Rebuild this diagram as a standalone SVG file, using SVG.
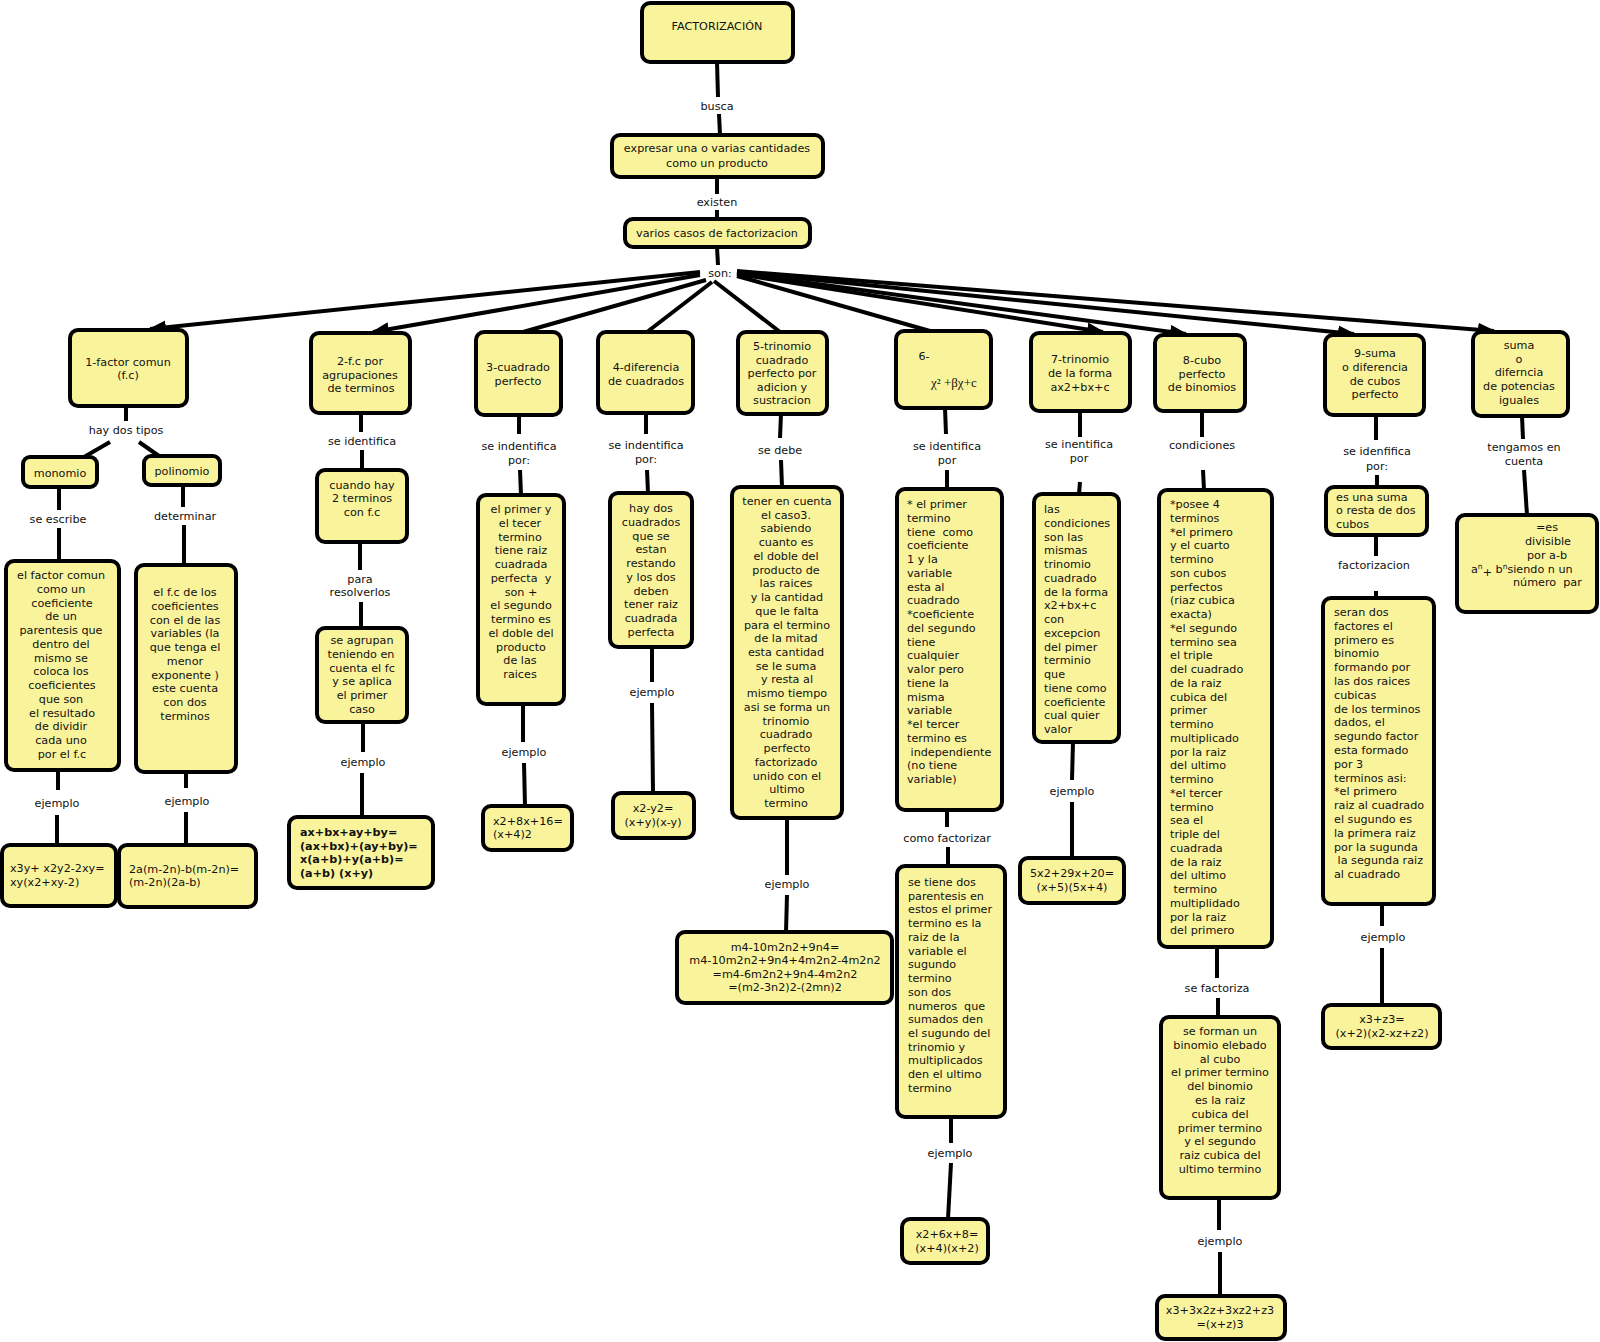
<svg xmlns="http://www.w3.org/2000/svg" width="1600" height="1342" viewBox="0 0 1600 1342">
<style>
.n rect{fill:#f9f49c;stroke:#000;stroke-width:4}
text{font-family:"DejaVu Sans",Verdana,sans-serif;font-size:11.2px;fill:#111}
.m{text-anchor:middle}
.b{font-weight:bold}
.conn line{stroke:#000;stroke-width:4;stroke-linecap:butt}
.lbl text{text-anchor:middle}
</style>
<defs>
<marker id="ar" viewBox="0 0 18 14" refX="16" refY="7" markerUnits="userSpaceOnUse" markerWidth="18" markerHeight="14" orient="auto">
<path d="M0,0 L18,7 L0,14 z" fill="#000"/>
</marker>
</defs>
<rect width="1600" height="1342" fill="#fff"/>

<g class="conn">
<line x1="717" y1="62" x2="718" y2="97"/>
<line x1="719" y1="114" x2="720" y2="135"/>
<line x1="717" y1="177" x2="717" y2="194"/>
<line x1="717" y1="210" x2="717" y2="219"/>
<line x1="717" y1="247" x2="718" y2="265"/>
<line x1="700" y1="272" x2="150" y2="329" marker-end="url(#ar)"/>
<line x1="700" y1="275" x2="373" y2="332" marker-end="url(#ar)"/>
<line x1="706" y1="280" x2="523" y2="332"/>
<line x1="712" y1="282" x2="647" y2="332"/>
<line x1="714" y1="281" x2="780" y2="332"/>
<line x1="737" y1="276" x2="930" y2="331"/>
<line x1="737" y1="274" x2="1103" y2="332" marker-end="url(#ar)"/>
<line x1="737" y1="273" x2="1186" y2="334" marker-end="url(#ar)"/>
<line x1="737" y1="272" x2="1354" y2="334" marker-end="url(#ar)"/>
<line x1="737" y1="271" x2="1494" y2="331" marker-end="url(#ar)"/>
<line x1="126" y1="406" x2="126" y2="421"/>
<line x1="110" y1="442" x2="84" y2="457"/>
<line x1="139" y1="442" x2="159" y2="456"/>
<line x1="59" y1="487" x2="59" y2="510"/>
<line x1="59" y1="528" x2="59" y2="561"/>
<line x1="58" y1="770" x2="58" y2="790"/>
<line x1="57" y1="815" x2="57" y2="845"/>
<line x1="183" y1="485" x2="183" y2="507"/>
<line x1="184" y1="525" x2="184" y2="565"/>
<line x1="186" y1="772" x2="186" y2="788"/>
<line x1="186" y1="812" x2="186" y2="845"/>
<line x1="361" y1="413" x2="361" y2="432"/>
<line x1="362" y1="450" x2="362" y2="470"/>
<line x1="360" y1="542" x2="360" y2="570"/>
<line x1="361" y1="602" x2="361" y2="628"/>
<line x1="363" y1="722" x2="363" y2="752"/>
<line x1="362" y1="773" x2="362" y2="817"/>
<line x1="519" y1="415" x2="519" y2="434"/>
<line x1="520" y1="470" x2="521" y2="495"/>
<line x1="523" y1="704" x2="523" y2="742"/>
<line x1="524" y1="763" x2="525" y2="806"/>
<line x1="646" y1="413" x2="646" y2="434"/>
<line x1="647" y1="470" x2="648" y2="493"/>
<line x1="652" y1="647" x2="652" y2="682"/>
<line x1="652" y1="703" x2="653" y2="793"/>
<line x1="781" y1="414" x2="780" y2="438"/>
<line x1="781" y1="460" x2="782" y2="487"/>
<line x1="787" y1="818" x2="787" y2="875"/>
<line x1="787" y1="895" x2="786" y2="932"/>
<line x1="945" y1="408" x2="946" y2="434"/>
<line x1="947" y1="470" x2="947" y2="489"/>
<line x1="947" y1="810" x2="947" y2="827"/>
<line x1="948" y1="847" x2="948" y2="866"/>
<line x1="951" y1="1117" x2="951" y2="1143"/>
<line x1="951" y1="1163" x2="948" y2="1219"/>
<line x1="1080" y1="411" x2="1080" y2="437"/>
<line x1="1080" y1="482" x2="1079" y2="494"/>
<line x1="1073" y1="742" x2="1072" y2="780"/>
<line x1="1072" y1="802" x2="1072" y2="858"/>
<line x1="1202" y1="411" x2="1202" y2="437"/>
<line x1="1203" y1="470" x2="1204" y2="490"/>
<line x1="1217" y1="947" x2="1217" y2="978"/>
<line x1="1218" y1="998" x2="1218" y2="1017"/>
<line x1="1219" y1="1198" x2="1219" y2="1230"/>
<line x1="1220" y1="1252" x2="1220" y2="1296"/>
<line x1="1376" y1="415" x2="1376" y2="440"/>
<line x1="1377" y1="475" x2="1377" y2="487"/>
<line x1="1376" y1="535" x2="1376" y2="556"/>
<line x1="1376" y1="591" x2="1376" y2="598"/>
<line x1="1382" y1="904" x2="1382" y2="926"/>
<line x1="1382" y1="948" x2="1382" y2="1005"/>
<line x1="1522" y1="416" x2="1523" y2="439"/>
<line x1="1524" y1="470" x2="1527" y2="515"/>
</g>

<g class="lbl">
<text x="717" y="110">busca</text>
<text x="717" y="206">existen</text>
<text x="720" y="277">son:</text>
<text x="126" y="434">hay dos tipos</text>
<text x="58" y="523">se escribe</text>
<text x="185" y="520">determinar</text>
<text x="57" y="807">ejemplo</text>
<text x="187" y="805">ejemplo</text>
<text x="362" y="445">se identifica</text>
<text x="360" y="583">para</text>
<text x="360" y="596">resolverlos</text>
<text x="363" y="766">ejemplo</text>
<text x="519" y="450">se indentifica</text>
<text x="519" y="464">por:</text>
<text x="524" y="756">ejemplo</text>
<text x="646" y="449">se indentifica</text>
<text x="646" y="463">por:</text>
<text x="652" y="696">ejemplo</text>
<text x="780" y="454">se debe</text>
<text x="787" y="888">ejemplo</text>
<text x="947" y="450">se identifica</text>
<text x="947" y="464">por</text>
<text x="947" y="842">como factorizar</text>
<text x="950" y="1157">ejemplo</text>
<text x="1079" y="448">se inentifica</text>
<text x="1079" y="462">por</text>
<text x="1072" y="795">ejemplo</text>
<text x="1202" y="449">condiciones</text>
<text x="1217" y="992">se factoriza</text>
<text x="1220" y="1245">ejemplo</text>
<text x="1377" y="455">se idenfifica</text>
<text x="1377" y="470">por:</text>
<text x="1374" y="569">factorizacion</text>
<text x="1383" y="941">ejemplo</text>
<text x="1524" y="451">tengamos en</text>
<text x="1524" y="465">cuenta</text>
</g>

<g id="n-factorizacion" class="n"><rect x="642" y="3" width="151" height="59" rx="8"/><text class="m" x="717" y="30">FACTORIZACIÓN</text></g>
<g id="n-expresar" class="n"><rect x="612" y="135" width="211" height="42" rx="8"/><text class="m" x="717" y="152">expresar una o varias cantidades</text><text class="m" x="717" y="167">como un producto</text></g>
<g id="n-varios" class="n"><rect x="625" y="219" width="185" height="28" rx="8"/><text class="m" x="717" y="237">varios casos de factorizacion</text></g>

<g id="c1" class="n"><rect x="70" y="330" width="117" height="76" rx="8"/><text class="m" x="128" y="366">1-factor comun</text><text class="m" x="128" y="379">(f.c)</text></g>
<g id="c2" class="n"><rect x="311" y="333" width="99" height="80" rx="8"/><text class="m" x="360" y="365">2-f.c por</text><text class="m" x="360" y="379">agrupaciones</text><text class="m" x="361" y="392">de terminos</text></g>
<g id="c3" class="n"><rect x="476" y="332" width="85" height="83" rx="8"/><text class="m" x="518" y="371">3-cuadrado</text><text class="m" x="518" y="385">perfecto</text></g>
<g id="c4" class="n"><rect x="598" y="332" width="95" height="81" rx="8"/><text class="m" x="646" y="371">4-diferencia</text><text class="m" x="646" y="385">de cuadrados</text></g>
<g id="c5" class="n"><rect x="738" y="332" width="89" height="82" rx="8"/><text class="m" x="782" y="350">5-trinomio</text><text class="m" x="782" y="364">cuadrado</text><text class="m" x="782" y="377">perfecto por</text><text class="m" x="782" y="391">adicion y</text><text class="m" x="782" y="404">sustracion</text></g>
<g id="c6" class="n"><rect x="896" y="331" width="95" height="77" rx="8"/><text class="m" x="924" y="360">6-</text><text x="931" y="387" style="font-family:'Liberation Serif',serif;font-size:13px">χ² +βχ+c</text></g>
<g id="c7" class="n"><rect x="1031" y="333" width="99" height="78" rx="8"/><text class="m" x="1080" y="363">7-trinomio</text><text class="m" x="1080" y="377">de la forma</text><text class="m" x="1080" y="391">ax2+bx+c</text></g>
<g id="c8" class="n"><rect x="1155" y="335" width="90" height="76" rx="8"/><text class="m" x="1202" y="364">8-cubo</text><text class="m" x="1202" y="378">perfecto</text><text class="m" x="1202" y="391">de binomios</text></g>
<g id="c9" class="n"><rect x="1325" y="335" width="99" height="80" rx="8"/><text class="m" x="1375" y="357">9-suma</text><text class="m" x="1375" y="371">o diferencia</text><text class="m" x="1375" y="385">de cubos</text><text class="m" x="1375" y="398">perfecto</text></g>
<g id="c10" class="n"><rect x="1473" y="332" width="95" height="84" rx="8"/><text class="m" x="1519" y="349">suma</text><text class="m" x="1519" y="363">o</text><text class="m" x="1519" y="376">diferncia</text><text class="m" x="1519" y="390">de potencias</text><text class="m" x="1519" y="404">iguales</text></g>

<g id="n-monomio" class="n"><rect x="23" y="457" width="74" height="30" rx="7"/><text class="m" x="60" y="477">monomio</text></g>
<g id="n-polinomio" class="n"><rect x="144" y="456" width="76" height="29" rx="7"/><text class="m" x="182" y="475">polinomio</text></g>
<g id="n-factor" class="n"><rect x="6" y="561" width="113" height="209" rx="8"/><text class="m" x="61" y="579">el factor comun<tspan x="61" dy="13.75">como un</tspan><tspan x="62" dy="13.75">coeficiente</tspan><tspan x="61" dy="13.75">de un</tspan><tspan x="61" dy="13.75">parentesis que</tspan><tspan x="61" dy="13.75">dentro del</tspan><tspan x="61" dy="13.75">mismo se</tspan><tspan x="61" dy="13.75">coloca los</tspan><tspan x="62" dy="13.75">coeficientes</tspan><tspan x="61" dy="13.75">que son</tspan><tspan x="62" dy="13.75">el resultado</tspan><tspan x="61" dy="13.75">de dividir</tspan><tspan x="61" dy="13.75">cada uno</tspan><tspan x="62" dy="13.75">por el f.c</tspan></text></g>
<g id="n-fc" class="n"><rect x="136" y="565" width="100" height="207" rx="8"/><text class="m" x="185" y="596">el f.c de los<tspan x="185" dy="13.75">coeficientes</tspan><tspan x="185" dy="13.75">con el de las</tspan><tspan x="185" dy="13.75">variables (la</tspan><tspan x="185" dy="13.75">que tenga el</tspan><tspan x="185" dy="13.75">menor</tspan><tspan x="185" dy="13.75">exponente )</tspan><tspan x="185" dy="13.75">este cuenta</tspan><tspan x="185" dy="13.75">con dos</tspan><tspan x="185" dy="13.75">terminos</tspan></text></g>
<g id="n-x3y" class="n"><rect x="2" y="845" width="114" height="61" rx="8"/><text x="10" y="872">x3y+ x2y2-2xy=</text><text x="10" y="886">xy(x2+xy-2)</text></g>
<g id="n-2a" class="n"><rect x="119" y="845" width="137" height="62" rx="8"/><text x="129" y="873">2a(m-2n)-b(m-2n)=</text><text x="129" y="886">(m-2n)(2a-b)</text></g>

<g id="n-cuando" class="n"><rect x="317" y="470" width="90" height="72" rx="8"/><text class="m" x="362" y="489">cuando hay</text><text class="m" x="362" y="502">2 terminos</text><text class="m" x="362" y="516">con f.c</text></g>
<g id="n-agrupan" class="n"><rect x="317" y="628" width="90" height="94" rx="8"/><text class="m" x="362" y="644">se agrupan<tspan x="361" dy="13.8">teniendo en</tspan><tspan x="362" dy="13.8">cuenta el fc</tspan><tspan x="362" dy="13.8">y se aplica</tspan><tspan x="362" dy="13.8">el primer</tspan><tspan x="362" dy="13.8">caso</tspan></text></g>
<g id="n-axbx" class="n"><rect x="289" y="817" width="144" height="71" rx="8"/><text class="b" x="300" y="836">ax+bx+ay+by=</text><text class="b" x="300" y="850">(ax+bx)+(ay+by)=</text><text class="b" x="300" y="863">x(a+b)+y(a+b)=</text><text class="b" x="300" y="877">(a+b) (x+y)</text></g>

<g id="n-primer" class="n"><rect x="478" y="495" width="86" height="209" rx="8"/><text class="m" x="521" y="513">el primer y<tspan x="520" dy="13.75">el tecer</tspan><tspan x="520" dy="13.75">termino</tspan><tspan x="521" dy="13.75">tiene raiz</tspan><tspan x="521" dy="13.75">cuadrada</tspan><tspan x="521" dy="13.75">perfecta&#160; y</tspan><tspan x="521" dy="13.75">son +</tspan><tspan x="521" dy="13.75">el segundo</tspan><tspan x="521" dy="13.75">termino es</tspan><tspan x="521" dy="13.75">el doble del</tspan><tspan x="521" dy="13.75">producto</tspan><tspan x="520" dy="13.75">de las</tspan><tspan x="520" dy="13.75">raices</tspan></text></g>
<g id="n-x2-8x" class="n"><rect x="483" y="806" width="89" height="44" rx="8"/><text x="493" y="825">x2+8x+16=</text><text x="493" y="838">(x+4)2</text></g>

<g id="n-haydos" class="n"><rect x="610" y="493" width="82" height="154" rx="8"/><text class="m" x="651" y="512">hay dos<tspan x="651" dy="13.78">cuadrados</tspan><tspan x="651" dy="13.78">que se</tspan><tspan x="651" dy="13.78">estan</tspan><tspan x="651" dy="13.78">restando</tspan><tspan x="651" dy="13.78">y los dos</tspan><tspan x="651" dy="13.78">deben</tspan><tspan x="651" dy="13.78">tener raiz</tspan><tspan x="651" dy="13.78">cuadrada</tspan><tspan x="651" dy="13.78">perfecta</tspan></text></g>
<g id="n-x2-y2" class="n"><rect x="613" y="793" width="81" height="45" rx="8"/><text class="m" x="653" y="812">x2-y2=</text><text class="m" x="653" y="826">(x+y)(x-y)</text></g>

<g id="n-tener" class="n"><rect x="732" y="487" width="110" height="331" rx="8"/><text class="m" x="787" y="505">tener en cuenta<tspan x="786" dy="13.73">el caso3.</tspan><tspan x="786" dy="13.73">sabiendo</tspan><tspan x="786" dy="13.73">cuanto es</tspan><tspan x="786" dy="13.73">el doble del</tspan><tspan x="786" dy="13.73">producto de</tspan><tspan x="786" dy="13.73">las raices</tspan><tspan x="787" dy="13.73">y la cantidad</tspan><tspan x="787" dy="13.73">que le falta</tspan><tspan x="787" dy="13.73">para el termino</tspan><tspan x="786" dy="13.73">de la mitad</tspan><tspan x="786" dy="13.73">esta cantidad</tspan><tspan x="786" dy="13.73">se le suma</tspan><tspan x="787" dy="13.73">y resta al</tspan><tspan x="787" dy="13.73">mismo tiempo</tspan><tspan x="787" dy="13.73">asi se forma un</tspan><tspan x="786" dy="13.73">trinomio</tspan><tspan x="786" dy="13.73">cuadrado</tspan><tspan x="787" dy="13.73">perfecto</tspan><tspan x="786" dy="13.73">factorizado</tspan><tspan x="787" dy="13.73">unido con el</tspan><tspan x="787" dy="13.73">ultimo</tspan><tspan x="786" dy="13.73">termino</tspan></text></g>
<g id="n-m4" class="n"><rect x="677" y="932" width="215" height="71" rx="8"/><text class="m" x="785" y="951">m4-10m2n2+9n4=</text><text class="m" x="785" y="964">m4-10m2n2+9n4+4m2n2-4m2n2</text><text class="m" x="785" y="978">=m4-6m2n2+9n4-4m2n2</text><text class="m" x="785" y="991">=(m2-3n2)2-(2mn)2</text></g>

<g id="n-elprimer" class="n"><rect x="897" y="489" width="105" height="321" rx="8"/><text x="907" y="508">* el primer<tspan x="907" dy="13.75">termino</tspan><tspan x="907" dy="13.75">tiene&#160; como</tspan><tspan x="907" dy="13.75">coeficiente</tspan><tspan x="907" dy="13.75">1 y la</tspan><tspan x="907" dy="13.75">variable</tspan><tspan x="907" dy="13.75">esta al</tspan><tspan x="907" dy="13.75">cuadrado</tspan><tspan x="907" dy="13.75">*coeficiente</tspan><tspan x="907" dy="13.75">del segundo</tspan><tspan x="907" dy="13.75">tiene</tspan><tspan x="907" dy="13.75">cualquier</tspan><tspan x="907" dy="13.75">valor pero</tspan><tspan x="907" dy="13.75">tiene la</tspan><tspan x="907" dy="13.75">misma</tspan><tspan x="907" dy="13.75">variable</tspan><tspan x="907" dy="13.75">*el tercer</tspan><tspan x="907" dy="13.75">termino es</tspan><tspan x="907" dy="13.75">&#160;independiente</tspan><tspan x="907" dy="13.75">(no tiene</tspan><tspan x="907" dy="13.75">variable)</tspan></text></g>
<g id="n-setiene" class="n"><rect x="897" y="866" width="108" height="251" rx="8"/><text x="908" y="886">se tiene dos<tspan x="908" dy="13.73">parentesis en</tspan><tspan x="908" dy="13.73">estos el primer</tspan><tspan x="908" dy="13.73">termino es la</tspan><tspan x="908" dy="13.73">raiz de la</tspan><tspan x="908" dy="13.73">variable el</tspan><tspan x="908" dy="13.73">sugundo</tspan><tspan x="908" dy="13.73">termino</tspan><tspan x="908" dy="13.73">son dos</tspan><tspan x="908" dy="13.73">numeros&#160; que</tspan><tspan x="908" dy="13.73">sumados den</tspan><tspan x="908" dy="13.73">el sugundo del</tspan><tspan x="908" dy="13.73">trinomio y</tspan><tspan x="908" dy="13.73">multiplicados</tspan><tspan x="908" dy="13.73">den el ultimo</tspan><tspan x="908" dy="13.73">termino</tspan></text></g>
<g id="n-x2-6x" class="n"><rect x="902" y="1219" width="86" height="44" rx="8"/><text class="m" x="947" y="1238">x2+6x+8=</text><text class="m" x="947" y="1252">(x+4)(x+2)</text></g>

<g id="n-lascond" class="n"><rect x="1034" y="494" width="85" height="248" rx="8"/><text x="1044" y="513">las<tspan x="1044" dy="13.75">condiciones</tspan><tspan x="1044" dy="13.75">son las</tspan><tspan x="1044" dy="13.75">mismas</tspan><tspan x="1044" dy="13.75">trinomio</tspan><tspan x="1044" dy="13.75">cuadrado</tspan><tspan x="1044" dy="13.75">de la forma</tspan><tspan x="1044" dy="13.75">x2+bx+c</tspan><tspan x="1044" dy="13.75">con</tspan><tspan x="1044" dy="13.75">excepcion</tspan><tspan x="1044" dy="13.75">del pimer</tspan><tspan x="1044" dy="13.75">terminio</tspan><tspan x="1044" dy="13.75">que</tspan><tspan x="1044" dy="13.75">tiene como</tspan><tspan x="1044" dy="13.75">coeficiente</tspan><tspan x="1044" dy="13.75">cual quier</tspan><tspan x="1044" dy="13.75">valor</tspan></text></g>
<g id="n-5x2" class="n"><rect x="1020" y="858" width="104" height="45" rx="8"/><text class="m" x="1072" y="877">5x2+29x+20=</text><text class="m" x="1072" y="891">(x+5)(5x+4)</text></g>

<g id="n-posee" class="n"><rect x="1159" y="490" width="113" height="457" rx="8"/><text x="1170" y="508">*posee 4<tspan x="1170" dy="13.75">terminos</tspan><tspan x="1170" dy="13.75">*el primero</tspan><tspan x="1170" dy="13.75">y el cuarto</tspan><tspan x="1170" dy="13.75">termino</tspan><tspan x="1170" dy="13.75">son cubos</tspan><tspan x="1170" dy="13.75">perfectos</tspan><tspan x="1170" dy="13.75">(riaz cubica</tspan><tspan x="1170" dy="13.75">exacta)</tspan><tspan x="1170" dy="13.75">*el segundo</tspan><tspan x="1170" dy="13.75">termino sea</tspan><tspan x="1170" dy="13.75">el triple</tspan><tspan x="1170" dy="13.75">del cuadrado</tspan><tspan x="1170" dy="13.75">de la raiz</tspan><tspan x="1170" dy="13.75">cubica del</tspan><tspan x="1170" dy="13.75">primer</tspan><tspan x="1170" dy="13.75">termino</tspan><tspan x="1170" dy="13.75">multiplicado</tspan><tspan x="1170" dy="13.75">por la raiz</tspan><tspan x="1170" dy="13.75">del ultimo</tspan><tspan x="1170" dy="13.75">termino</tspan><tspan x="1170" dy="13.75">*el tercer</tspan><tspan x="1170" dy="13.75">termino</tspan><tspan x="1170" dy="13.75">sea el</tspan><tspan x="1170" dy="13.75">triple del</tspan><tspan x="1170" dy="13.75">cuadrada</tspan><tspan x="1170" dy="13.75">de la raiz</tspan><tspan x="1170" dy="13.75">del ultimo</tspan><tspan x="1170" dy="13.75">&#160;termino</tspan><tspan x="1170" dy="13.75">multiplidado</tspan><tspan x="1170" dy="13.75">por la raiz</tspan><tspan x="1170" dy="13.75">del primero</tspan></text></g>
<g id="n-seforman" class="n"><rect x="1161" y="1017" width="118" height="181" rx="8"/><text class="m" x="1220" y="1035">se forman un<tspan x="1220" dy="13.8">binomio elebado</tspan><tspan x="1220" dy="13.8">al cubo</tspan><tspan x="1220" dy="13.8">el primer termino</tspan><tspan x="1220" dy="13.8">del binomio</tspan><tspan x="1220" dy="13.8">es la raiz</tspan><tspan x="1220" dy="13.8">cubica del</tspan><tspan x="1220" dy="13.8">primer termino</tspan><tspan x="1220" dy="13.8">y el segundo</tspan><tspan x="1220" dy="13.8">raiz cubica del</tspan><tspan x="1220" dy="13.8">ultimo termino</tspan></text></g>
<g id="n-x3-3x2z" class="n"><rect x="1157" y="1296" width="128" height="43" rx="8"/><text class="m" x="1220" y="1314">x3+3x2z+3xz2+z3</text><text class="m" x="1220" y="1328">=(x+z)3</text></g>

<g id="n-esuna" class="n"><rect x="1326" y="487" width="101" height="48" rx="8"/><text x="1336" y="501">es una suma</text><text x="1336" y="514">o resta de dos</text><text x="1336" y="528">cubos</text></g>
<g id="n-serandos" class="n"><rect x="1323" y="598" width="111" height="306" rx="8"/><text x="1334" y="616">seran dos<tspan x="1334" dy="13.8">factores el</tspan><tspan x="1334" dy="13.8">primero es</tspan><tspan x="1334" dy="13.8">binomio</tspan><tspan x="1334" dy="13.8">formando por</tspan><tspan x="1334" dy="13.8">las dos raices</tspan><tspan x="1334" dy="13.8">cubicas</tspan><tspan x="1334" dy="13.8">de los terminos</tspan><tspan x="1334" dy="13.8">dados, el</tspan><tspan x="1334" dy="13.8">segundo factor</tspan><tspan x="1334" dy="13.8">esta formado</tspan><tspan x="1334" dy="13.8">por 3</tspan><tspan x="1334" dy="13.8">terminos asi:</tspan><tspan x="1334" dy="13.8">*el primero</tspan><tspan x="1334" dy="13.8">raiz al cuadrado</tspan><tspan x="1334" dy="13.8">el sugundo es</tspan><tspan x="1334" dy="13.8">la primera raiz</tspan><tspan x="1334" dy="13.8">por la sugunda</tspan><tspan x="1334" dy="13.8">&#160;la segunda raiz</tspan><tspan x="1334" dy="13.8">al cuadrado</tspan></text></g>
<g id="n-x3-z3" class="n"><rect x="1323" y="1005" width="117" height="43" rx="8"/><text class="m" x="1382" y="1023">x3+z3=</text><text class="m" x="1382" y="1037">(x+2)(x2-xz+z2)</text></g>

<g id="n-es" class="n"><rect x="1457" y="515" width="140" height="97" rx="8"/><text class="m" x="1547" y="531">=es</text><text class="m" x="1548" y="545">divisible</text><text class="m" x="1547" y="559">por a-b</text><text x="1471" y="573">a<tspan dy="-4" font-size="7.5">n</tspan><tspan dy="7">+</tspan><tspan dy="-3"> b</tspan><tspan dy="-4" font-size="7.5">n</tspan><tspan dy="4">siendo n un</tspan></text><text x="1513" y="586">número&#160; par</text></g>
</svg>
